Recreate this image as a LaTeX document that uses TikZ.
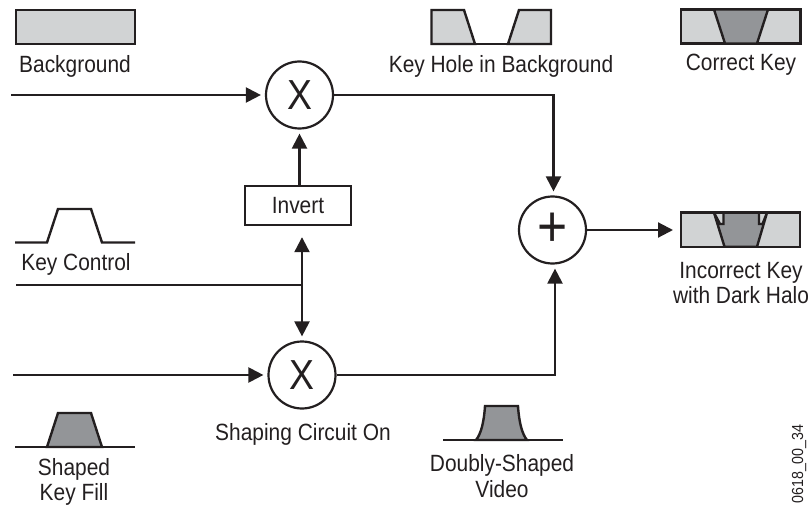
\documentclass[tikz,border=0pt]{standalone}
\usepackage{fontspec}
\setmainfont[FakeStretch=0.89]{Liberation Sans}
\usetikzlibrary{arrows.meta, positioning}
\definecolor{bgfill}{HTML}{D1D3D4}
\definecolor{keyfill}{HTML}{939598}
\definecolor{inkline}{HTML}{231F20}

\begin{document}
\begin{tikzpicture}[
        x=1pt, y=-1pt,
        mixer/.style={circle, draw=inkline, line width=2.2pt, minimum size=67pt, inner sep=0pt, text=inkline, font=\fontsize{42}{42}\selectfont},
        caption/.style={align=center, inner sep=0pt, text=inkline, font=\fontsize{23.5}{25.5}\selectfont},
        wire/.style={line width=2.2pt, draw=inkline},
        shapeline/.style={line width=2.4pt, draw=inkline, line join=miter},
        arrow/.style={-{Triangle[length=15pt,width=15pt]}, line width=2.2pt, draw=inkline, shorten >=4pt}
    ]
    \useasboundingbox (0,0) rectangle (812,508);

    % Mixers
    \node[mixer] (mixtop) at (299.5,95) {\raisebox{-3pt}{X}};
    \node[mixer] (mixbot) at (302,375) {\raisebox{-3pt}{X}};
    \node[mixer, font=\fontsize{58}{58}\selectfont] (sum) at (552.5,230) {\raisebox{-4pt}{+}};
    \node[caption, draw=inkline, line width=2.4pt, minimum width=106pt, minimum height=39pt] (invert) at (298,205.5) {Invert};

    % Signal ends
    \coordinate (bgin) at (11,95);
    \coordinate (keyin) at (16,285);
    \coordinate (fillin) at (13,375);
    \coordinate (keyjoin) at (302,285);
    \coordinate (topcorner) at (553.5,95);
    \coordinate (botcorner) at (555,375);
    \coordinate (sumout) at (680,230);

    % Waveforms
    \draw[shapeline, fill=bgfill] (16,10) rectangle (135,44);
    \node[caption] (background) at (75,66) {Background};

    \draw[shapeline, fill=bgfill] (475,44) -- (431.5,44) -- (431.5,10) -- (464,10) -- cycle;
    \draw[shapeline, fill=bgfill] (508,44) -- (519,10) -- (551,10) -- (551,44) -- cycle;
    \draw[shapeline] (475,44) -- (508,44);
    \node[caption] (keyhole) at (501,66) {Key Hole in Background};

    \draw[shapeline, fill=bgfill] (681,9.5) rectangle (800.5,43.5);
    \draw[shapeline, fill=keyfill] (714,9.5) -- (768,9.5) -- (757,43.5) -- (725,43.5) -- cycle;
    \node[caption] (correct) at (741,65) {Correct Key};

    \draw[shapeline, fill=bgfill] (680.7,212.7) rectangle (800,246.7);
    \draw[shapeline, fill=keyfill] (714,212.7) -- (720,224) -- (723.5,224) -- (723.5,212.7) -- (759,212.7) -- (759,224) -- (762.5,224) -- (767,212.7) -- (757,246.7) -- (724.5,246.7) -- cycle;
    \node[caption] (incorrect) at (741,283) {Incorrect Key\\with Dark Halo};

    \draw[shapeline] (15,242.5) -- (47,242.5) -- (58,209) -- (91,209) -- (102,242.5) -- (135,242.5);
    \node[caption] (keycontrol) at (76,264) {Key Control};

    \draw[shapeline, fill=keyfill] (47,447) -- (58,413) -- (91,413) -- (102,447) -- cycle;
    \draw[shapeline] (15,447) -- (135,447);
    \node[caption] (shaped) at (74,482) {Shaped\\Key Fill};
    \node[caption] (shapingon) at (303,434) {Shaping Circuit On};

    \draw[shapeline, fill=keyfill] (476,440) .. controls (481,434) and (484,422) .. (485,406) -- (518,406) .. controls (519,422) and (522,434) .. (527,440) -- cycle;
    \draw[shapeline] (443,440) -- (563,440);
    \node[caption] (doubly) at (502,476) {Doubly-Shaped\\Video};

    \node[inner sep=0pt, text=inkline, rotate=90, font=\fontsize{16}{16}\selectfont] (figid) at (799,464) {0618\_00\_34};

    % Arrows
    \draw[arrow] (bgin) -- (mixtop);
    \draw[arrow] (fillin) -- (mixbot);
    \draw[arrow] (invert.north -| mixtop) -- (mixtop);
    \draw[wire] (keyin) -- (keyjoin);
    \draw[arrow, shorten >=11pt] (keyjoin) -- (keyjoin |- invert.south);
    \draw[arrow] (keyjoin) -- (mixbot);
    \draw[arrow] (mixtop) -- (topcorner) -- (topcorner |- sum.north);
    \draw[arrow] (mixbot) -- (botcorner) -- (botcorner |- sum.south);
    \draw[arrow, shorten >=7pt] (sum) -- (sumout);

\end{tikzpicture}
\end{document}
